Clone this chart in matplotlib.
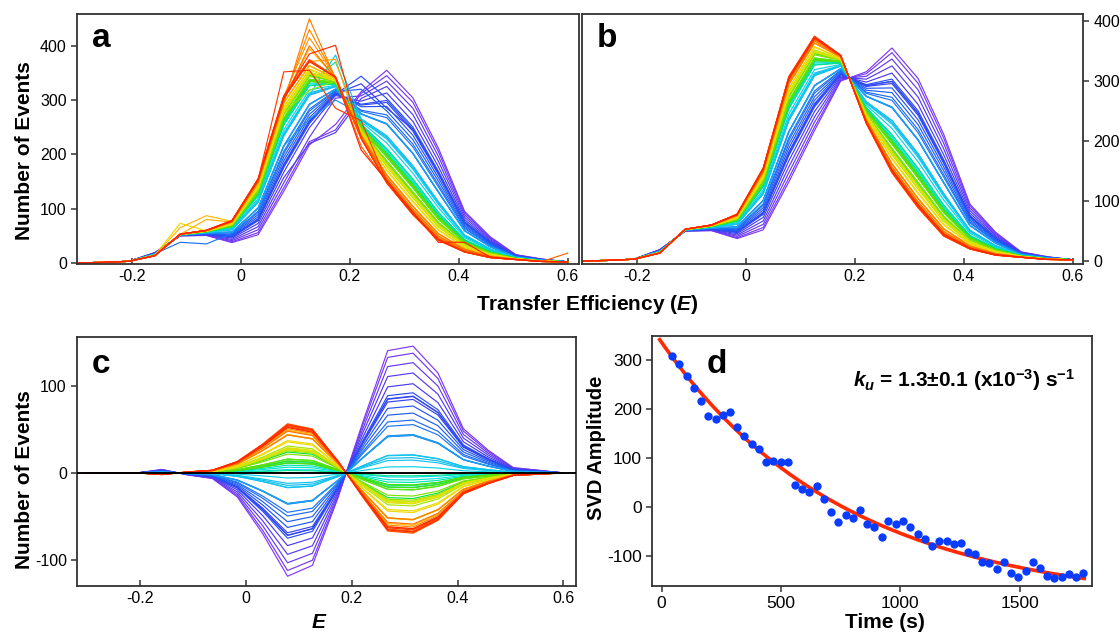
import numpy as np
import matplotlib
matplotlib.use('Agg')
import matplotlib.pyplot as plt
from matplotlib.colors import LinearSegmentedColormap

plt.rcParams['font.family'] = ['Liberation Sans', 'DejaVu Sans']
plt.rcParams['axes.unicode_minus'] = False
plt.rcParams['mathtext.fontset'] = 'custom'
plt.rcParams['mathtext.rm'] = 'Liberation Sans:bold'
plt.rcParams['mathtext.it'] = 'Liberation Sans:bold:italic'
plt.rcParams['mathtext.bf'] = 'Liberation Sans:bold'

# transfer efficiency bins
e_bins = [-0.300, -0.253, -0.205, -0.158, -0.111, -0.063, -0.016, 0.032, 0.079, 0.126,
          0.174, 0.221, 0.268, 0.316, 0.363, 0.411, 0.458, 0.505, 0.553, 0.600]

# first SVD component (mean histogram) and second component (per unit amplitude)
hist_base = [0, 1, 3, 15, 52, 57, 65, 122, 251, 324,
             329, 257, 214, 158, 96, 44, 22, 9, 4, 2]
svd_vec = [0, 0, 0, 0.013, -0.007, -0.021, -0.090, -0.228, -0.388, -0.347,
           -0.095, 0.190, 0.459, 0.476, 0.375, 0.166, 0.085, 0.020, 0.010, 0]

# SVD amplitude vs time (panel d)
time_s = [42, 74, 105, 135, 165, 193, 226, 257, 287, 314,
          346, 377, 408, 437, 468, 499, 528, 558, 589, 618,
          649, 680, 708, 740, 771, 800, 831, 859, 889, 922,
          949, 980, 1010, 1040, 1072, 1103, 1131, 1162, 1194, 1225,
          1254, 1282, 1313, 1343, 1373, 1403, 1434, 1463, 1494, 1525,
          1554, 1585, 1616, 1645, 1676, 1706, 1736, 1766]
svd_amp = [307, 290, 267, 242, 216, 185, 178, 186, 194, 162,
           145, 128, 117, 91, 93, 91, 92, 44, 37, 31,
           43, 15, -10, -31, -17, -23, -7, -35, -41, -62,
           -29, -36, -30, -41, -56, -66, -80, -69, -70, -75,
           -73, -92, -96, -113, -114, -127, -113, -136, -143, -131,
           -113, -124, -141, -146, -143, -138, -143, -135]

# exponential fit
k_u = 1.3e-3
amp_start = 335
amp_end = -200

# raw histogram counts (panel a) that stand off the SVD reconstruction
a_fix_curve = [50, 49, 48, 51, 45, 45, 45, 46, 42, 55, 55, 55, 55, 56, 56, 57, 57, 57, 52, 8, 20, 12, 12, 35,
               1, 2, 5, 5, 10, 10, 52, 47, 30, 30, 25, 15, 15, 3, 3, 0, 1]
a_fix_bin = [9, 9, 9, 9, 4, 5, 9, 5, 4, 8, 9, 10, 11, 9, 10, 11, 14, 15, 19, 11, 10, 4, 5, 9,
             12, 12, 11, 12, 11, 12, 11, 10, 10, 11, 10, 9, 10, 9, 10, 10, 10]
a_fix_count = [450, 430, 415, 400, 65, 87, 395, 80, 73, 352, 355, 285, 262, 385, 401, 208, 38, 38, 18, 344, 383, 38, 35, 318,
               345, 335, 330, 285, 320, 280, 215, 375, 330, 240, 370, 265, 300, 220, 240, 255, 245]

e_ticks = [-0.2, 0, 0.2, 0.4, 0.6]
e_tick_labels = ['-0.2', '0', '0.2', '0.4', '0.6']

line_colors = ['#8038f5', '#3c3cf0', '#1e5af5', '#1e8cf5', '#10c4f0', '#00e4d8',
               '#00e040', '#70e000', '#d0e800', '#f8d400', '#ffa000', '#ff6000', '#ff2400']
cmap = LinearSegmentedColormap.from_list('spec', line_colors)

x = np.array(e_bins)
base = np.array(hist_base, dtype=float)
vec = np.array(svd_vec)
amp = np.array(svd_amp, dtype=float)
n = len(amp)
colors = [cmap(i / (n - 1)) for i in range(n)]

comp = amp[:, None] * vec[None, :]     # panel c
recon = base[None, :] + comp           # panel b
raw = recon.copy()                     # panel a
for ci, bi, cnt in zip(a_fix_curve, a_fix_bin, a_fix_count):
    raw[ci, bi] = cnt

fig = plt.figure(figsize=(11.2, 6.34), dpi=100)
ax_a = fig.add_axes([0.069, 0.5836, 0.448, 0.3938])
ax_b = fig.add_axes([0.5194, 0.5836, 0.4478, 0.3938])
ax_c = fig.add_axes([0.069, 0.0762, 0.445, 0.3927])
ax_d = fig.add_axes([0.5824, 0.0762, 0.3923, 0.3938])

for ax in [ax_a, ax_b, ax_c, ax_d]:
    for s in ax.spines.values():
        s.set_color('#333333')
        s.set_linewidth(1.3)
    ax.tick_params(labelsize=11.5, width=1.1, length=4, color='#333333')

for i in range(n):
    ax_a.plot(x, raw[i], color=colors[i], lw=0.85)
    ax_b.plot(x, recon[i], color=colors[i], lw=0.85)
    ax_c.plot(x, comp[i], color=colors[i], lw=0.85)

# panel a
ax_a.set_xlim(-0.300, 0.621)
ax_a.set_ylim(-2, 458)
ax_a.set_xticks(e_ticks)
ax_a.set_xticklabels(e_tick_labels)
ax_a.set_yticks([0, 100, 200, 300, 400])
ax_a.tick_params(axis='x', direction='in')
ax_a.text(0.029, 0.869, 'a', transform=ax_a.transAxes, fontsize=24, fontweight='bold')

# panel b
ax_b.set_xlim(-0.301, 0.619)
ax_b.set_ylim(-5, 411)
ax_b.set_xticks(e_ticks)
ax_b.set_xticklabels(e_tick_labels)
ax_b.set_yticks([0, 100, 200, 300, 400])
ax_b.yaxis.tick_right()
ax_b.tick_params(axis='x', direction='in')
ax_b.text(0.03, 0.869, 'b', transform=ax_b.transAxes, fontsize=24, fontweight='bold')

fig.text(0.524, 0.519, r'Transfer Efficiency ($E$)', ha='center', va='center',
         fontsize=15, fontweight='bold')
fig.text(0.022, 0.763, 'Number of Events', rotation=90, ha='center', va='center',
         fontsize=15, fontweight='bold')

# panel c
ax_c.axhline(0, color='black', lw=1.4, zorder=5)
ax_c.set_xlim(-0.318, 0.623)
ax_c.set_ylim(-130, 157)
ax_c.set_xticks(e_ticks)
ax_c.set_xticklabels(e_tick_labels)
ax_c.set_yticks([-100, 0, 100])
ax_c.tick_params(axis='x', direction='in')
ax_c.text(0.03, 0.854, 'c', transform=ax_c.transAxes, fontsize=24, fontweight='bold')
fig.text(0.285, 0.018, r'$E$', ha='center', va='center', fontsize=15)
fig.text(0.022, 0.243, 'Number of Events', rotation=90, ha='center', va='center',
         fontsize=15, fontweight='bold')

# panel d
t_fit = np.linspace(-8, 1770, 200)
amp_fit = amp_end + (amp_start - amp_end) * np.exp(-k_u * t_fit)
ax_d.plot(t_fit, amp_fit, color='#ff2a00', lw=2.6, zorder=2)
ax_d.scatter(time_s, svd_amp, s=36, color='#0a3cff', zorder=3, linewidths=0)
ax_d.set_xlim(-39, 1801)
ax_d.set_ylim(-161, 348)
ax_d.set_xticks([0, 500, 1000, 1500])
ax_d.set_yticks([-100, 0, 100, 200, 300])
ax_d.tick_params(labelsize=12.5)
ax_d.text(0.124, 0.852, 'd', transform=ax_d.transAxes, fontsize=24, fontweight='bold')
ax_d.text(0.457, 0.797, r'$k_u$ = 1.3±0.1 (x10$^{-3}$) s$^{-1}$', transform=ax_d.transAxes,
          fontsize=15, fontweight='bold')
fig.text(0.533, 0.293, 'SVD Amplitude', rotation=90, ha='center', va='center',
         fontsize=14.5, fontweight='bold')
fig.text(0.79, 0.018, 'Time (s)', ha='center', va='center', fontsize=15, fontweight='bold')

fig.savefig('out.png', dpi=100)
